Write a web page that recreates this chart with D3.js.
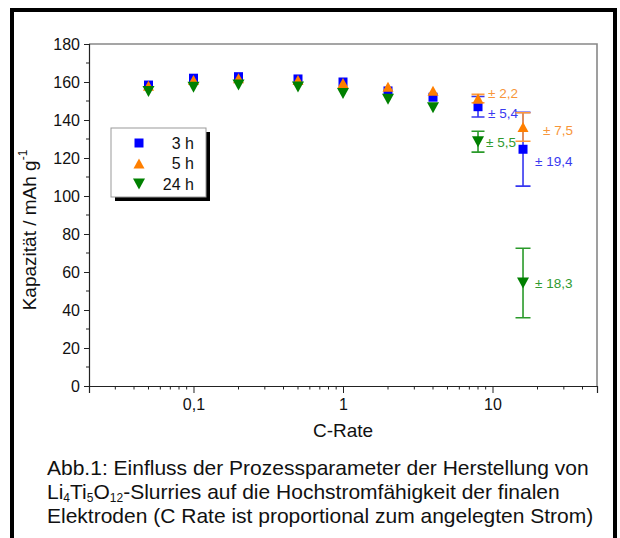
<!DOCTYPE html>
<html>
<head>
<meta charset="utf-8">
<script src="https://cdn.jsdelivr.net/npm/d3@7"></script>
<style>
  body { margin: 0; background: #fff; }
  svg { display: block; font-family: "Liberation Sans", Arial, sans-serif; }
</style>
</head>
<body>
<div id="chart"></div>
<script>
// data
const cRates = [0.05, 0.1, 0.2, 0.5, 1, 2, 4, 8, 16];
const cap3h  = [158.4, 162.0, 162.8, 161.6, 160.0, 155.3, 152.0, 147.0, 124.6];
const cap5h  = [158.0, 161.0, 162.0, 161.0, 159.5, 157.5, 155.4, 151.3, 136.3];
const cap24h = [155.0, 157.2, 158.4, 157.4, 154.0, 150.9, 146.5, 128.6, 54.2];
const err3h  = [null, null, null, null, null, null, null, 5.4, 19.4];
const err5h  = [null, null, null, null, null, null, null, 2.2, 7.5];
const err24h = [null, null, null, null, null, null, null, 5.5, 18.3];
const seriesNames = ["3 h", "5 h", "24 h"];
const yTicks = [0, 20, 40, 60, 80, 100, 120, 140, 160, 180];
const xTicks = [0.1, 1, 10];
const xTickLabels = ["0,1", "1", "10"];

const W = 620, H = 538;
const svg = d3.select("#chart").append("svg")
    .attr("width", W).attr("height", H);

// outer black frame
svg.append("rect")
    .attr("x", 12).attr("y", 10)
    .attr("width", 603).attr("height", 600)
    .attr("fill", "none").attr("stroke", "#000").attr("stroke-width", 4);

const x = d3.scaleLog().domain([0.02, 50]).range([89, 597]);
const y = d3.scaleLinear().domain([0, 180]).range([386, 44]);

// top / right frame lines (gray)
svg.append("path")
    .attr("d", `M${x(0.02)},${y(180)}H${x(50)}V${y(0)}`)
    .attr("fill", "none").attr("stroke", "#888").attr("stroke-width", 1.6);

// minor ticks
const yMinor = d3.range(10, 180, 20);
const xMinor = [];
[0.01, 0.1, 1, 10].forEach(dec => {
    for (let k = 2; k <= 9; k++) {
        const v = dec * k;
        if (v > 0.02 && v < 50) xMinor.push(v);
    }
});

const yAxis = svg.append("g")
    .attr("transform", `translate(${x(0.02)},0)`)
    .call(d3.axisLeft(y).tickValues(yTicks).tickSize(5).tickPadding(4));
yAxis.append("g").selectAll("line").data(yMinor).join("line")
    .attr("x1", -3).attr("x2", 0)
    .attr("y1", d => y(d)).attr("y2", d => y(d))
    .attr("stroke", "#222");

const xAxis = svg.append("g")
    .attr("transform", `translate(0,${y(0)})`)
    .call(d3.axisBottom(x).tickValues(xTicks).tickSize(7).tickPadding(6)
        .tickFormat((d, i) => xTickLabels[i]));
xAxis.append("g").selectAll("line").data(xMinor).join("line")
    .attr("x1", d => x(d)).attr("x2", d => x(d))
    .attr("y1", 0).attr("y2", 3.5)
    .attr("stroke", "#222");

[yAxis, xAxis].forEach(a => {
    a.select(".domain").attr("stroke", "#222").attr("stroke-width", 1.2);
    a.selectAll(".tick line").attr("stroke", "#222");
    a.selectAll("text").attr("font-size", 16).attr("fill", "#111")
        .attr("font-family", "Liberation Sans, Arial, sans-serif");
});

// axis titles
svg.append("text")
    .attr("x", x(1)).attr("y", 437)
    .attr("text-anchor", "middle").attr("font-size", 19).attr("fill", "#111")
    .text("C-Rate");

const yt = svg.append("text")
    .attr("transform", "translate(36,230) rotate(-90)")
    .attr("text-anchor", "middle").attr("font-size", 19).attr("fill", "#111");
yt.append("tspan").text("Kapazität / mAh g");
yt.append("tspan").attr("font-size", 12).attr("dy", -9).text("-1");

// markers
const sq = s => `M${-s/2},${-s/2}h${s}v${s}h${-s}Z`;
const triUp = (w, h) => `M0,${-h/2}L${w/2},${h/2}L${-w/2},${h/2}Z`;
const triDown = (w, h) => `M0,${h/2}L${w/2},${-h/2}L${-w/2},${-h/2}Z`;

const series = [
    { vals: cap3h, errs: err3h, color: "#0000ff", bar: "#3636f0", label: "#3a3af0", shape: sq(9) },
    { vals: cap5h, errs: err5h, color: "#ff7f00", bar: "#ff9a3a", label: "#f7963a", shape: triUp(11, 10) },
    { vals: cap24h, errs: err24h, color: "#008000", bar: "#2a9a2a", label: "#2f9a2f", shape: triDown(12, 11) }
];

// label offsets (layout only) per series, for C = 8 and C = 16
const labelPos = [
    [{ dx: 10, dy: 11 }, { dx: 12, dy: 17 }],
    [{ dx: 10, dy: -1 }, { dx: 20, dy: 8 }],
    [{ dx: 8, dy: 5 }, { dx: 12, dy: 5 }]
];

const fmt = v => "± " + d3.format(".1f")(v).replace(".", ",");

series.forEach((s, si) => {
    const g = svg.append("g");
    const pts = cRates.map((c, i) => ({ c, v: s.vals[i], e: s.errs[i] }));
    const withErr = pts.filter(p => p.e != null);

    withErr.forEach((p, k) => {
        const cx = x(p.c), cw = k === 0 ? 6.5 : 7.5;
        g.append("path")
            .attr("d", `M${cx},${y(p.v + p.e)}V${y(p.v - p.e)}` +
                `M${cx - cw},${y(p.v + p.e)}h${2 * cw}` +
                `M${cx - cw},${y(p.v - p.e)}h${2 * cw}`)
            .attr("stroke", s.bar).attr("stroke-width", 1.6).attr("fill", "none");
    });

    g.selectAll("path.mk").data(pts).join("path")
        .attr("class", "mk")
        .attr("d", s.shape)
        .attr("transform", d => `translate(${x(d.c)},${y(d.v)})`)
        .attr("fill", s.color);

    withErr.forEach((p, k) => {
        const lp = labelPos[si][k];
        g.append("text")
            .attr("x", x(p.c) + lp.dx).attr("y", y(p.v) + lp.dy)
            .attr("font-size", 13.5).attr("fill", s.label)
            .text(fmt(p.e));
    });
});

// legend
const lg = svg.append("g");
lg.append("rect").attr("x", 115).attr("y", 132).attr("width", 95).attr("height", 69).attr("fill", "#000");
lg.append("rect").attr("x", 111).attr("y", 128).attr("width", 95).attr("height", 69)
    .attr("fill", "#fff").attr("stroke", "#999").attr("stroke-width", 1);
seriesNames.forEach((n, i) => {
    const ry = 143 + i * 20.5;
    lg.append("path").attr("d", series[i].shape)
        .attr("transform", `translate(139,${ry})`).attr("fill", series[i].color);
    lg.append("text").attr("x", 194).attr("y", ry + 5.5)
        .attr("text-anchor", "end").attr("font-size", 16).attr("fill", "#111")
        .text(n);
});

// caption
const cap = svg.append("g").attr("font-size", 21).attr("fill", "#111");
cap.append("text").attr("x", 47).attr("y", 475)
    .text("Abb.1: Einfluss der Prozessparameter der Herstellung von");
const l2 = cap.append("text").attr("x", 47).attr("y", 499);
l2.append("tspan").text("Li");
l2.append("tspan").attr("font-size", 12).attr("dy", 3).text("4");
l2.append("tspan").attr("dy", -3).text("Ti");
l2.append("tspan").attr("font-size", 12).attr("dy", 3).text("5");
l2.append("tspan").attr("dy", -3).text("O");
l2.append("tspan").attr("font-size", 12).attr("dy", 3).text("12");
l2.append("tspan").attr("dy", -3).text("-Slurries auf die Hochstromfähigkeit der finalen");
cap.append("text").attr("x", 47).attr("y", 523)
    .text("Elektroden (C Rate ist proportional zum angelegten Strom)");
</script>
</body>
</html>
